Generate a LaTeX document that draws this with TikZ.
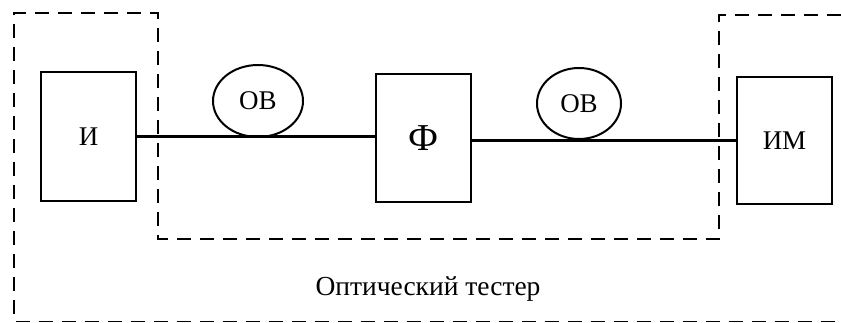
\documentclass[tikz,border=0pt]{standalone}
\usepackage{fontspec}
\setmainfont{Liberation Serif}
\usetikzlibrary{shapes.geometric}
\begin{document}
\begin{tikzpicture}[x=1pt,y=-1pt,
  blk/.style={draw,line width=2.6pt,minimum width=95pt,inner sep=0pt,font=\fontsize{27}{30}\selectfont},
  ob/.style={draw,ellipse,line width=2pt,inner sep=0pt,font=\fontsize{27}{30}\selectfont},
  wire/.style={line width=2.2pt},
  frame/.style={line width=1.3pt,dash pattern=on 14pt off 9pt}]
\useasboundingbox (0,0) rectangle (841,323);
\node[blk,minimum height=129pt] (I) at (88.5,136.5) {И};
\node[blk,minimum height=128pt,font=\fontsize{38}{42}\selectfont] (F) at (423.5,138) {Ф};
\node[blk,minimum height=127pt] (IM) at (784.5,140.5) {ИМ};
\node[ob,minimum width=90pt,minimum height=72pt] (ob1) at (258,101) {OB};
\node[ob,minimum width=84pt,minimum height=71pt] (ob2) at (579,103.5) {OB};
\draw[wire] (I.east) -- (I.east -| F.west);
\draw[wire] (F.east |- IM.west) -- (IM.west);
\coordinate (p1) at (841,15);
\coordinate (p2) at (719,15);
\coordinate (p3) at (719,239);
\coordinate (p4) at (158,239);
\coordinate (p5) at (158,13);
\coordinate (p6) at (14,13);
\coordinate (p7) at (14,321.5);
\coordinate (p8) at (841,321.5);
\draw[frame] (p1) -- (p2) -- (p3) -- (p4) -- (p5) -- (p6) -- (p7) -- (p8);
\node[font=\fontsize{27.5}{30}\selectfont] (lbl) at (428,289) {Оптический тестер};
\end{tikzpicture}
\end{document}
